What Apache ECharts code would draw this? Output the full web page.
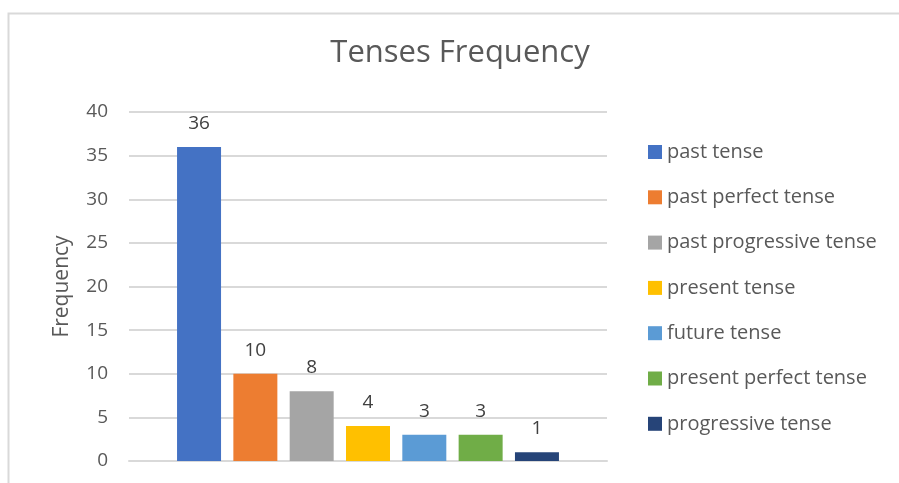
<!DOCTYPE html>
<html>
<head>
<meta charset="utf-8">
<script src="https://cdn.jsdelivr.net/npm/echarts@6/dist/echarts.min.js"></script>
<style>
  html, body { margin: 0; padding: 0; background: #fff; }
  #chart { width: 899px; height: 483px; }
</style>
</head>
<body>
<div id="chart"></div>
<script>
// Tense names and how often each occurs
const tenses = [
  'past tense',
  'past perfect tense',
  'past progressive tense',
  'present tense',
  'future tense',
  'present perfect tense',
  'progressive tense'
];
const counts = [36, 10, 8, 4, 3, 3, 1];
const colors = ['#4472C4', '#ED7D31', '#A5A5A5', '#FFC000', '#5B9BD5', '#70AD47', '#264478'];
const yTicks = { min: 0, max: 40, interval: 5 };

const FONT = '"Open Sans", "Liberation Sans", sans-serif';
const TEXT = '#595959';

const chart = echarts.init(document.getElementById('chart'), null, { renderer: 'canvas' });

const series = tenses.map((name, i) => ({
  name: name,
  type: 'bar',
  data: [counts[i]],
  barWidth: 44,
  barGap: '28%',
  itemStyle: { color: colors[i] },
  label: {
    show: true,
    position: 'top',
    distance: 14,
    color: '#404040',
    fontFamily: FONT,
    fontSize: 19
  }
}));

chart.setOption({
  animation: false,
  color: colors,
  title: {
    text: 'Tenses Frequency',
    left: 460,
    textAlign: 'center',
    top: 38,
    padding: 0,
    textStyle: { fontFamily: FONT, fontSize: 31, fontWeight: 'normal', color: TEXT }
  },
  graphic: [{
    type: 'rect',
    shape: { x: 8.5, y: 13.5, width: 1000, height: 1000 },
    style: { fill: 'none', stroke: '#d9d9d9', lineWidth: 2 },
    silent: true
  }],
  legend: {
    orient: 'vertical',
    left: 648,
    top: 142,
    padding: 0,
    itemWidth: 14,
    itemHeight: 14,
    itemGap: 25.3,
    icon: 'rect',
    data: tenses,
    textStyle: { fontFamily: FONT, fontSize: 20, color: TEXT }
  },
  grid: { left: 129, right: 292, top: 112, bottom: 22 },
  xAxis: {
    type: 'category',
    data: [''],
    axisLine: { lineStyle: { color: '#d9d9d9', width: 2 } },
    axisTick: { show: false },
    axisLabel: { show: false }
  },
  yAxis: {
    type: 'value',
    min: yTicks.min,
    max: yTicks.max,
    interval: yTicks.interval,
    name: 'Frequency',
    nameLocation: 'middle',
    nameGap: 56,
    nameTextStyle: { fontFamily: FONT, fontSize: 21, color: TEXT },
    axisLine: { show: false },
    axisTick: { show: false },
    axisLabel: { fontFamily: FONT, fontSize: 19, color: TEXT, margin: 21 },
    splitLine: { lineStyle: { color: '#d9d9d9', width: 2 } }
  },
  series: series
});
</script>
</body>
</html>
